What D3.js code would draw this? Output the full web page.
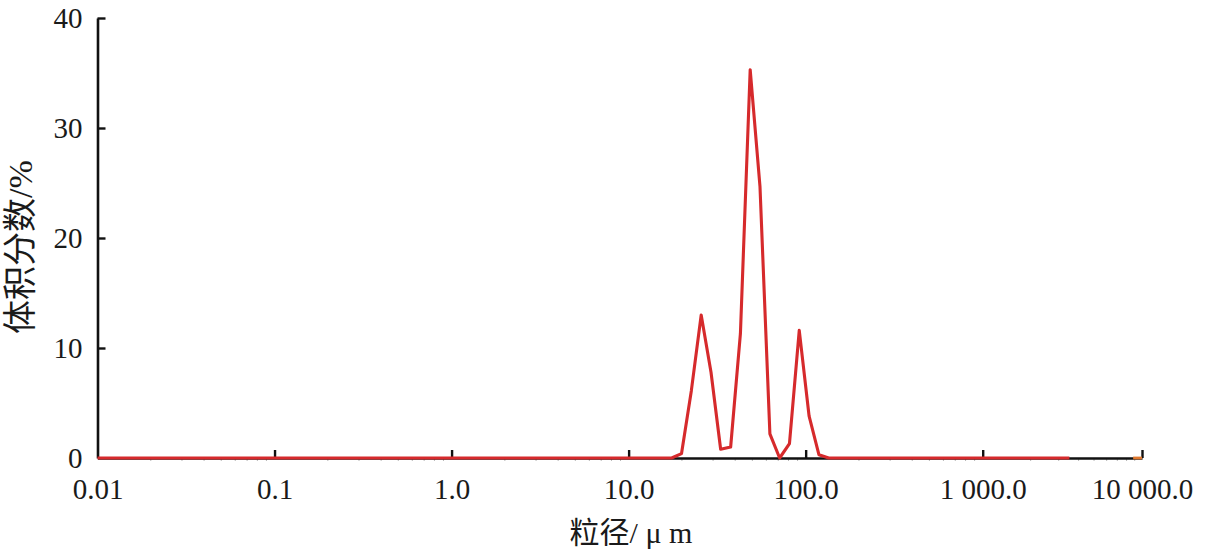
<!DOCTYPE html>
<html>
<head>
<meta charset="utf-8">
<script src="https://cdn.jsdelivr.net/npm/d3@7/dist/d3.min.js"></script>
<style>
  html, body { margin: 0; padding: 0; background: #fff; }
  svg { display: block; }
  .tick text { font-family: "Liberation Serif", "Times New Roman", serif; font-size: 29px; fill: #1a1a1a; }
</style>
</head>
<body>
<svg id="chart" width="1205" height="552"></svg>
<script>
// Particle size (µm) and volume fraction (%)
const sizes  = [0.01, 17.5, 19.9, 22.6, 25.7, 29.2, 33.1, 37.7, 42.8, 48.6, 55.2, 62.8, 71.3, 81.0, 92.0, 104.6, 118.8, 135.0, 3500];
const volume = [0,    0,    0.4,  6.1,  13.0, 7.8,  0.8,  1.0,  11.3, 35.3, 24.7, 2.2,  0,    1.3,  11.6, 3.8,   0.3,   0,     0];
// short tail segment at the far end of the axis
const tailSizes  = [8800, 10000];
const tailVolume = [0, 0];

const xTickValues = [0.01, 0.1, 1, 10, 100, 1000, 10000];
const xTickLabels = ["0.01", "0.1", "1.0", "10.0", "100.0", "1 000.0", "10 000.0"];
const yTickValues = [0, 10, 20, 30, 40];

const xLabel = "粒径/ μ m";
const yLabel = "体积分数/%";

const svg = d3.select("#chart");

const x = d3.scaleLog()
  .domain([0.01, 1000, 10000])
  .range([97.5, 982.7, 1142]);
const y = d3.scaleLinear().domain([0, 40]).range([458, 18]);

// minor ticks (faint)
const minor = [];
for (let e = -2; e < 4; e++) for (let k = 2; k <= 9; k++) minor.push(k * Math.pow(10, e));
svg.append("g")
  .selectAll("line").data(minor.filter(v => v < 10000)).join("line")
  .attr("x1", d => x(d)).attr("x2", d => x(d))
  .attr("y1", 458).attr("y2", 461)
  .attr("stroke", "#999").attr("stroke-width", 0.7);

const xAxis = d3.axisBottom(x)
  .tickValues(xTickValues)
  .tickFormat((d, i) => xTickLabels[i])
  .tickSizeInner(-8).tickSizeOuter(0).tickPadding(20);
const gx = svg.append("g").attr("transform", "translate(0,458)").call(xAxis);

const yAxis = d3.axisLeft(y)
  .tickValues(yTickValues)
  .tickFormat(d3.format("d"))
  .tickSizeInner(-8).tickSizeOuter(0).tickPadding(15);
const gy = svg.append("g").attr("transform", "translate(97.5,0)").call(yAxis);

[gx, gy].forEach(g => {
  g.select(".domain").attr("stroke", "#111").attr("stroke-width", 2.6);
  g.selectAll(".tick line").attr("stroke", "#111").attr("stroke-width", 2.4);
});
gx.selectAll(".tick").filter(d => d === 0.01).select("line").remove();
gy.selectAll(".tick").filter(d => d === 0).select("line").remove();

const line = d3.line().x(d => x(d[0])).y(d => y(d[1]));

svg.append("path")
  .datum(sizes.map((s, i) => [s, volume[i]]))
  .attr("d", line)
  .attr("fill", "none")
  .attr("stroke", "#d62a2c")
  .attr("stroke-width", 3.1)
  .attr("stroke-linejoin", "round");

svg.append("path")
  .datum(tailSizes.map((s, i) => [s, tailVolume[i]]))
  .attr("d", line)
  .attr("fill", "none")
  .attr("stroke", "#e0782e")
  .attr("stroke-width", 2.8);

svg.append("text")
  .attr("x", 631).attr("y", 543)
  .attr("text-anchor", "middle")
  .style("font-family", "'Liberation Serif', 'Noto Sans CJK SC', serif")
  .style("font-size", "30px").style("fill", "#1a1a1a")
  .text(xLabel);

svg.append("text")
  .attr("transform", "translate(32,247) rotate(-90)")
  .attr("text-anchor", "middle")
  .style("font-family", "'Liberation Serif', 'Noto Sans CJK SC', serif")
  .style("font-size", "34px").style("fill", "#1a1a1a")
  .text(yLabel);
</script>
</body>
</html>
